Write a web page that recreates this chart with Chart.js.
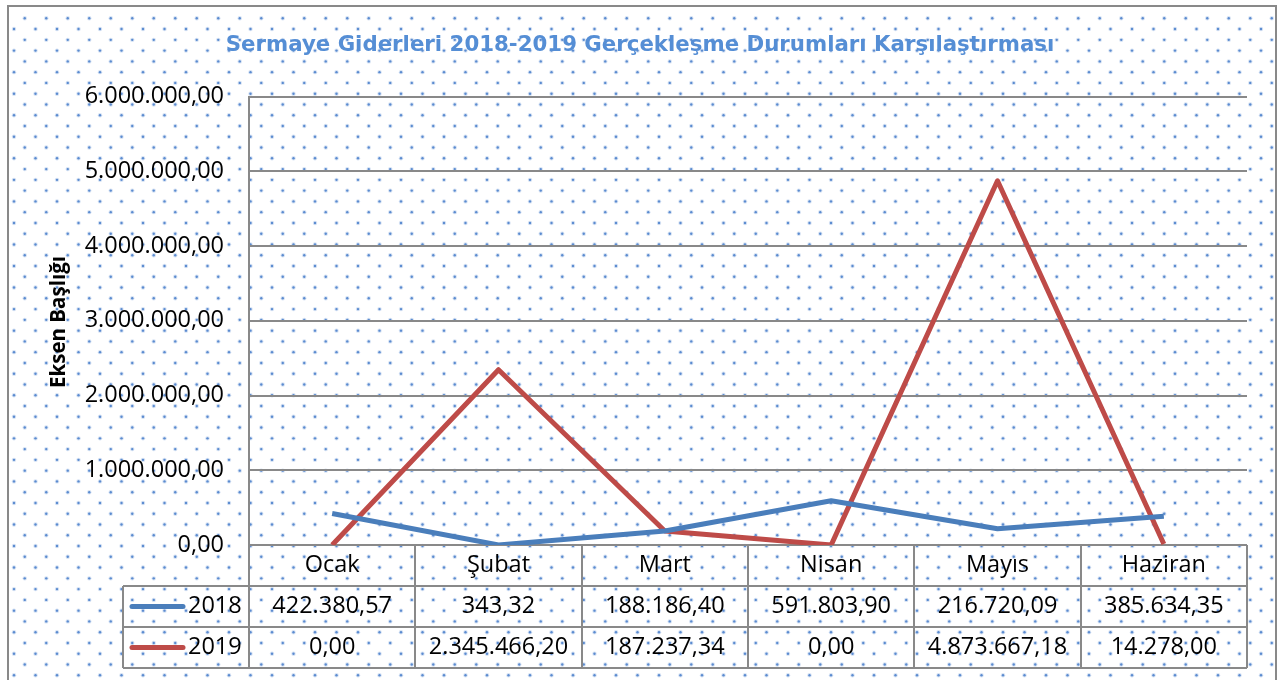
<!DOCTYPE html>
<html>
<head>
<meta charset="utf-8">
<script src="https://cdn.jsdelivr.net/npm/chart.js"></script>
<style>
  html, body { margin: 0; padding: 0; background: #fff; overflow: hidden; }
</style>
</head>
<body>
<canvas id="myChart" width="1278" height="680"></canvas>
<script>
var months = ['Ocak', 'Şubat', 'Mart', 'Nisan', 'Mayıs', 'Haziran'];
var seriesNames = ['2018', '2019'];
var values2018 = [422380.57, 343.32, 188186.40, 591803.90, 216720.09, 385634.35];
var values2019 = [0, 2345466.20, 187237.34, 0, 4873667.18, 14278.00];
var seriesColors = ['#4a7ebb', '#be4b48'];
var yMax = 6000000, yStep = 1000000;

var FONT = '"Open Sans"';
var gridGray = '#898989';

// 1234567.5 -> "1.234.567,50"
function trNum(v) {
  var s = v.toFixed(2).split('.');
  return s[0].replace(/\B(?=(\d{3})+(?!\d))/g, '.') + ',' + s[1];
}

// dotted background + outer frame
var bgDots = {
  id: 'bgDots',
  beforeDraw: function (chart) {
    var ctx = chart.ctx;
    ctx.save();
    ctx.fillStyle = '#fff';
    ctx.fillRect(0, 0, chart.width, chart.height);
    ctx.beginPath();
    ctx.rect(9, 7, 1266, 680);
    ctx.clip();
    for (var r = 0; 18.3 + r * 10.77 < 690; r++) {
      var y = 18.3 + r * 10.77;
      var x0 = r % 2 ? 14 : 24.75;
      for (var x = x0; x < 1285; x += 21.5) {
        ctx.fillStyle = 'rgba(91,139,208,0.25)';
        ctx.beginPath(); ctx.arc(x, y, 2.2, 0, 2 * Math.PI); ctx.fill();
        ctx.fillStyle = '#5b8bd0';
        ctx.beginPath(); ctx.arc(x, y, 1.2, 0, 2 * Math.PI); ctx.fill();
      }
    }
    ctx.restore();
    ctx.save();
    ctx.strokeStyle = gridGray;
    ctx.lineWidth = 2;
    ctx.strokeRect(8, 6, 1268, 700);
    ctx.restore();
  }
};

// data table under the plot + y axis title
var dataTable = {
  id: 'dataTable',
  afterDraw: function (chart) {
    var ctx = chart.ctx, area = chart.chartArea, xs = chart.scales.x;
    var left = area.left, right = area.right, top = area.bottom;
    var band = (right - left) / months.length;
    var rowH = 41, legLeft = 123;
    var rows = [values2018, values2019];
    ctx.save();
    ctx.strokeStyle = gridGray;
    ctx.lineWidth = 2;
    ctx.beginPath();
    for (var i = 1; i <= 3; i++) {
      ctx.moveTo(legLeft, top + i * rowH);
      ctx.lineTo(right, top + i * rowH);
    }
    ctx.moveTo(legLeft, top + rowH);
    ctx.lineTo(legLeft, top + 3 * rowH);
    for (var c = 0; c <= months.length; c++) {
      var xx = Math.round(left + c * band);
      ctx.moveTo(xx, top);
      ctx.lineTo(xx, top + 3 * rowH);
    }
    ctx.stroke();

    ctx.fillStyle = '#000';
    ctx.textAlign = 'center';
    ctx.textBaseline = 'middle';
    ctx.font = '23.5px ' + FONT;
    months.forEach(function (m, i) {
      var cx = xs.getPixelForValue(i);
      ctx.fillText(m, cx, top + rowH / 2);
      rows.forEach(function (vals, r) {
        ctx.fillText(trNum(vals[i]), cx, top + (r + 1.5) * rowH);
      });
    });

    rows.forEach(function (vals, r) {
      var cy = top + (r + 1.5) * rowH;
      ctx.strokeStyle = seriesColors[r];
      ctx.lineWidth = 5;
      ctx.lineCap = 'round';
      ctx.beginPath();
      ctx.moveTo(132, cy);
      ctx.lineTo(183, cy);
      ctx.stroke();
      ctx.textAlign = 'left';
      ctx.fillText(seriesNames[r], 188, cy);
    });

    ctx.translate(59, 322);
    ctx.rotate(-Math.PI / 2);
    ctx.textAlign = 'center';
    ctx.font = 'bold 20.5px ' + FONT;
    ctx.fillText('Eksen Başlığı', 0, 0);
    ctx.restore();
  }
};

var ctx = document.getElementById('myChart').getContext('2d');
var myChart = new Chart(ctx, {
  type: 'line',
  data: {
    labels: months,
    datasets: [{
      label: seriesNames[0],
      data: values2018,
      borderColor: seriesColors[0],
      backgroundColor: seriesColors[0],
      borderWidth: 5,
      pointRadius: 0,
      tension: 0,
      borderJoinStyle: 'round'
    }, {
      label: seriesNames[1],
      data: values2019,
      borderColor: seriesColors[1],
      backgroundColor: seriesColors[1],
      borderWidth: 5,
      pointRadius: 0,
      tension: 0,
      borderJoinStyle: 'round'
    }]
  },
  options: {
    responsive: false,
    animation: false,
    devicePixelRatio: 1,
    layout: { padding: { top: 0, left: 33, right: 31, bottom: 135 } },
    plugins: {
      legend: { display: false },
      tooltip: { enabled: false },
      title: {
        display: true,
        text: 'Sermaye Giderleri 2018-2019 Gerçekleşme Durumları Karşılaştırması',
        color: '#558ed5',
        font: { family: '"DejaVu Sans"', size: 21.3, weight: 'bold' },
        padding: { top: 33, bottom: 38 }
      }
    },
    scales: {
      x: {
        type: 'category',
        display: false,
        offset: true
      },
      y: {
        min: 0,
        max: yMax,
        afterFit: function (scale) { scale.width = 216; },
        ticks: {
          stepSize: yStep,
          padding: 25,
          color: '#000',
          font: { family: FONT, size: 23.5 },
          callback: function (v) { return trNum(v); }
        },
        grid: { color: gridGray, lineWidth: 2, drawTicks: false },
        border: { display: true, color: gridGray, width: 2 }
      }
    }
  },
  plugins: [bgDots, dataTable]
});
</script>
</body>
</html>
